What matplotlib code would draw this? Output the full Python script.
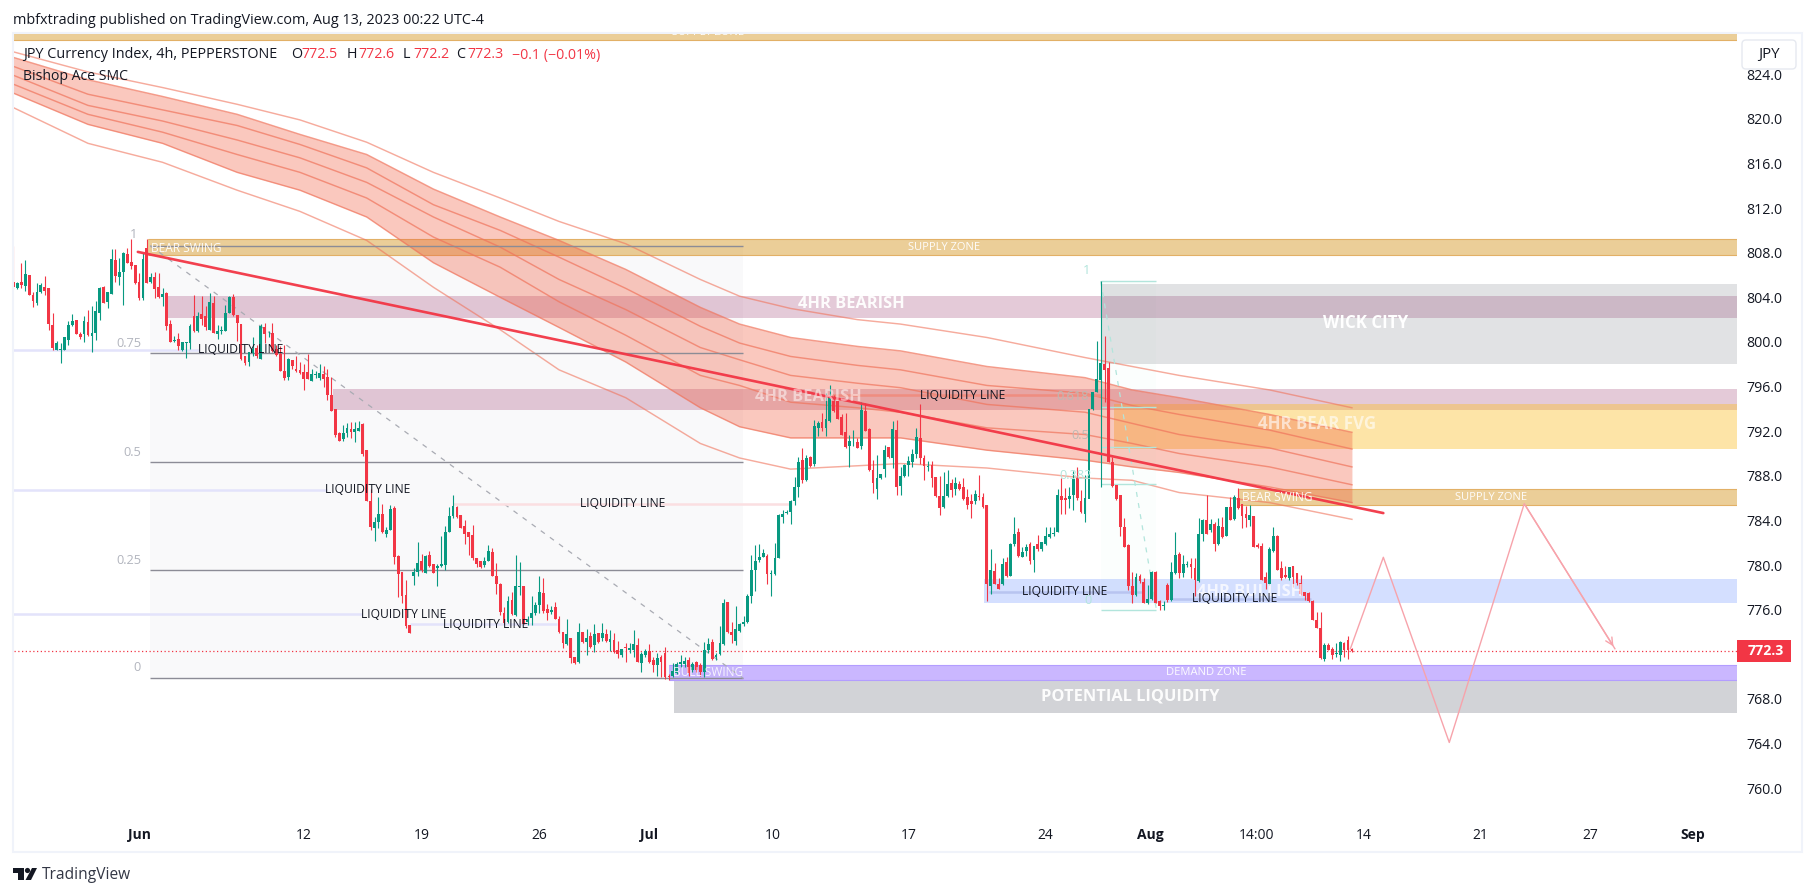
import matplotlib
matplotlib.use("Agg")
import matplotlib.pyplot as plt
from matplotlib.patches import Rectangle, Polygon, Circle, FancyBboxPatch
from matplotlib.transforms import Affine2D

FONT = "Open Sans"
plt.rcParams["font.family"] = FONT

# ---------- candles, 4h bars (price units) ----------
opens = [805.4,804.8,805.4,805.0,806.0,804.2,803.5,804.5,804.9,804.8,801.5,799.3,799.3,799.3,800.2,801.5,802.0,800.7,800.7,801.8,800.5,
800.8,802.6,804.9,803.6,804.3,807.3,805.8,806.3,807.9,807.2,806.9,805.4,803.9,808.4,805.4,805.8,804.9,804.0,804.4,801.6,
800.1,800.3,799.3,799.9,799.9,802.3,801.0,802.5,802.3,801.1,803.5,800.7,801.0,801.0,802.6,804.0,802.4,801.6,798.7,798.2,
799.0,799.5,798.5,801.3,800.7,800.8,799.4,798.9,797.4,796.9,798.4,797.6,797.5,797.3,797.3,796.5,797.0,796.8,797.1,796.9,
795.2,794.0,791.8,791.3,791.8,792.2,
791.9,792.0,792.6,790.3,785.7,783.3,783.9,784.6,782.8,783.1,785.1,780.8,779.4,777.3,774.6,779.0,779.4,780.4,779.3,780.9,
780.1,779.7,779.9,780.0,783.0,784.4,785.2,784.5,783.5,783.0,782.7,780.6,780.4,780.0,780.4,781.2,779.0,778.3,775.7,774.9,
776.9,775.5,778.0,778.1,774.9,775.3,775.7,776.4,777.5,776.1,775.8,776.2,775.2,774.0,772.9,773.5,771.8,771.3,774.0,773.1,
773.6,772.8,773.9,773.5,773.8,773.1,773.3,772.4,771.9,772.7,772.4,772.4,772.8,771.2,771.9,772.3,771.5,771.0,771.8,772.1,
770.1,770.1,770.3,771.1,771.1,771.5,
770.6,771.3,771.0,770.4,772.4,773.1,771.8,772.0,772.9,776.7,774.0,773.2,774.1,774.7,774.9,777.2,779.6,780.5,780.7,780.8,
779.2,779.2,780.6,784.3,784.7,784.8,785.7,787.0,789.4,787.6,789.7,789.1,792.3,792.8,792.3,792.9,795.0,794.7,793.3,791.9,
790.7,791.0,791.0,790.7,793.8,792.2,788.5,786.8,787.8,788.6,790.6,789.6,792.1,787.1,788.0,789.0,789.2,790.0,791.4,789.6,
788.8,789.0,787.9,786.2,785.2,786.2,787.4,786.8,787.3,787.0,786.1,785.7,785.7,786.2,786.1,785.4,778.1,779.5,778.3,778.3,
780.3,779.0,781.9,783.0,780.7,781.3,
781.9,780.5,781.9,781.4,781.9,782.5,782.8,783.0,786.2,786.0,785.9,786.3,787.8,785.7,784.6,785.9,794.0,795.5,796.6,798.0,
797.7,789.2,787.2,786.3,783.4,781.8,778.1,777.3,779.0,778.5,776.6,777.0,779.4,776.8,776.3,778.2,776.9,779.3,781.0,779.3,
780.0,780.1,779.7,778.6,782.8,784.0,783.1,783.7,781.9,783.4,782.6,785.2,784.1,786.0,785.5,784.6,784.0,784.4,781.8,781.7,
778.9,778.3,781.3,782.6,779.7,779.1,778.8,779.9,779.3,778.4,777.6,777.5,776.8,775.1,774.4,771.6,772.8,772.5,772.0,771.9,
773.0,773.3,772.5]
highs = [808.6,805.4,807.1,807.3,806.0,804.5,805.3,805.3,805.9,804.8,802.6,800.1,799.9,800.4,801.9,802.5,802.0,800.9,802.3,802.9,803.2,
803.7,804.9,805.0,804.5,808.3,808.3,807.5,808.1,808.4,809.2,806.9,806.2,808.0,809.2,806.2,806.3,806.2,804.8,804.5,802.0,
800.5,800.8,800.0,800.0,801.6,804.2,802.7,804.1,803.2,804.4,804.1,801.5,801.4,803.3,804.1,804.3,802.4,801.6,798.7,799.1,
800.4,799.7,801.6,801.7,801.0,801.7,799.7,799.6,799.7,798.6,798.4,798.7,798.2,798.0,798.9,797.6,797.4,798.0,797.8,797.6,
796.9,794.0,791.9,792.6,792.7,792.8,
792.8,792.9,792.7,790.3,786.8,784.3,786.1,785.5,783.4,785.4,785.3,780.9,779.4,778.7,774.6,779.7,782.1,781.0,780.9,781.3,
780.1,780.1,782.6,783.5,785.2,786.3,785.3,784.5,784.0,783.0,783.6,780.6,780.4,780.7,781.8,781.5,780.2,778.4,776.2,777.2,
777.6,780.9,780.3,778.1,775.4,777.2,776.7,779.0,778.8,776.5,776.3,776.7,775.4,774.0,775.2,773.5,771.8,774.8,774.0,774.3,
774.0,774.7,773.9,774.8,774.3,774.2,773.9,773.2,772.5,773.0,773.0,774.2,773.5,772.2,772.5,772.9,771.8,772.1,771.9,772.7,
770.2,771.2,771.3,771.9,771.8,771.8,
771.3,771.4,771.2,773.1,773.5,773.4,772.1,774.5,777.0,776.7,774.9,776.3,774.8,775.4,777.4,780.9,781.8,781.9,781.4,781.0,
779.6,782.0,784.6,784.9,784.9,785.8,787.9,789.7,790.5,789.9,789.8,793.0,792.9,793.6,795.4,796.1,795.2,794.7,793.5,793.6,
791.7,792.1,791.4,794.6,794.5,792.3,789.4,789.9,788.2,790.8,790.6,792.9,793.0,788.8,789.1,789.8,790.4,792.3,794.4,789.9,
789.3,789.3,787.9,788.0,788.3,788.5,787.7,787.9,787.5,787.8,786.8,786.4,786.7,788.1,786.5,785.4,781.4,780.2,778.8,780.6,
780.7,782.0,784.3,783.3,781.6,781.9,
782.1,781.7,782.7,782.1,783.4,783.4,783.4,786.8,787.8,786.9,787.0,788.4,788.8,786.7,788.1,785.9,795.5,800.1,805.5,800.5,
798.2,789.7,787.2,786.3,784.2,781.9,779.4,779.3,779.2,778.8,778.2,779.5,779.5,776.9,776.8,778.4,780.3,783.0,781.2,780.9,
780.4,780.6,780.6,784.2,784.1,786.3,784.1,783.9,784.2,784.3,785.2,786.1,786.3,786.9,785.5,785.3,785.4,784.4,782.0,782.0,
779.4,781.6,783.4,782.7,780.4,779.9,779.8,779.9,779.3,779.1,777.6,777.6,776.9,775.8,775.8,773.0,773.0,772.7,773.0,773.2,
773.1,773.6,772.6]
lows = [804.7,804.7,804.8,804.6,804.2,803.1,803.3,804.4,804.2,801.1,799.3,799.3,798.1,799.3,799.7,801.4,800.7,800.3,800.0,800.5,799.1,
800.2,802.0,803.5,803.0,804.3,805.4,805.1,803.3,807.1,806.5,805.2,803.8,803.8,805.3,805.3,803.9,803.9,803.2,801.1,800.0,
800.0,799.3,799.2,798.6,799.4,800.9,800.9,801.5,801.1,801.1,800.8,800.3,800.7,801.0,802.6,802.3,800.1,798.4,797.9,797.8,
798.7,798.6,798.5,799.9,800.4,799.1,798.7,797.4,796.6,796.6,797.6,797.3,797.1,795.7,796.7,796.5,796.8,796.6,796.0,794.8,
793.8,791.5,791.1,791.1,791.5,791.4,
791.0,792.0,789.8,785.7,783.1,782.2,783.3,782.9,782.5,783.1,780.1,777.1,776.6,774.4,773.9,778.2,779.0,779.4,779.3,779.8,
779.3,778.1,779.8,779.6,783.0,784.2,784.2,783.3,781.9,780.9,780.5,779.8,779.7,779.8,780.4,779.0,777.4,775.5,774.7,774.8,
775.5,775.4,777.3,774.7,774.6,774.6,775.5,775.7,775.7,775.1,775.6,775.2,773.9,772.6,772.8,771.2,771.1,771.2,773.0,771.9,
772.6,772.2,773.0,773.2,773.1,772.3,772.1,771.7,771.8,771.3,772.1,771.8,771.3,770.4,771.8,771.2,770.4,770.1,770.0,769.8,
769.7,770.0,770.2,770.9,770.9,770.1,
770.4,770.4,770.1,770.0,772.1,771.5,771.5,771.9,772.8,773.9,773.0,772.8,774.0,774.5,774.8,776.6,777.7,780.3,780.7,778.3,
777.2,779.1,780.6,783.8,784.6,783.7,785.4,786.1,787.4,787.5,788.8,788.9,791.6,792.0,791.6,792.8,793.7,793.1,791.7,790.5,
788.8,790.7,790.5,790.4,792.0,788.4,786.5,785.9,787.7,787.9,789.6,788.7,786.3,786.3,787.9,788.0,788.8,789.6,789.1,787.6,
788.4,787.0,786.1,784.5,785.1,786.1,786.1,786.3,786.7,785.8,785.0,784.2,785.5,785.8,785.1,776.8,777.4,778.3,777.9,778.2,
778.9,779.0,781.7,780.7,780.7,780.8,
780.1,779.4,781.3,781.3,781.8,782.4,782.6,783.0,784.6,784.6,785.1,784.9,785.8,784.7,783.9,785.9,793.9,795.5,787.0,794.6,
789.2,787.0,785.8,782.6,781.6,777.8,776.6,777.2,778.4,776.6,776.5,776.9,776.6,776.0,776.0,776.7,776.8,779.2,778.8,778.9,
779.8,778.8,777.2,778.5,782.2,782.8,783.0,781.3,781.8,782.4,782.6,784.0,784.0,785.0,783.3,783.4,783.5,781.6,781.5,778.7,
777.9,778.2,781.2,779.6,778.7,778.8,778.7,778.0,778.2,777.3,776.9,776.7,775.1,774.4,771.6,771.4,772.4,771.6,771.8,771.4,
771.8,771.6,772.2]
closes = [804.9,805.3,805.1,806.1,804.2,803.7,804.5,805.1,804.6,801.6,799.5,799.9,799.4,800.4,801.5,801.9,800.7,800.4,801.9,800.6,800.8,
802.8,804.8,803.5,804.5,807.4,805.9,806.3,808.0,807.1,806.8,805.3,803.9,807.4,805.3,805.8,804.7,804.0,804.3,801.4,800.0,
800.2,799.6,800.0,800.0,801.4,801.0,802.3,802.1,801.3,803.6,800.8,801.0,801.1,802.6,804.0,802.4,801.7,798.5,798.1,799.1,
799.4,798.7,801.4,800.7,800.7,799.2,798.8,797.4,796.8,798.5,797.8,797.4,797.2,796.7,796.7,797.1,797.1,797.2,796.7,795.2,
793.8,791.7,791.1,791.8,792.3,791.9,
792.2,792.3,790.0,785.7,783.4,783.9,784.6,783.0,783.1,785.0,780.7,779.2,777.2,774.5,773.9,779.4,780.2,779.6,780.8,779.9,
779.3,779.9,780.1,783.0,784.4,785.3,784.3,783.3,782.8,782.5,780.6,780.1,779.8,780.4,781.3,779.0,778.3,775.8,774.8,776.8,
775.6,778.1,778.1,774.7,775.1,775.7,776.4,777.6,775.9,775.7,776.0,775.2,774.0,773.0,773.8,771.7,771.2,774.0,773.1,773.5,
772.7,773.8,773.1,773.9,773.2,773.4,772.2,772.0,772.5,772.6,772.6,772.9,771.3,772.0,772.3,771.3,771.0,771.7,771.3,770.0,
770.0,770.5,771.1,771.3,771.4,770.3,
771.1,770.6,770.4,772.4,772.9,771.6,771.9,773.0,776.6,774.0,773.7,774.3,774.7,774.9,777.2,779.6,780.4,780.7,781.1,779.2,
779.3,780.6,784.5,784.6,784.8,785.7,787.0,789.2,787.6,789.6,788.9,792.5,792.7,792.3,793.1,795.1,793.8,793.1,791.7,790.6,
791.1,791.0,790.5,793.9,792.0,788.5,787.4,787.8,788.2,790.3,789.7,792.2,787.0,788.0,789.0,789.3,790.0,791.5,789.6,788.9,
788.9,787.8,786.2,785.1,786.2,787.3,786.7,787.4,786.8,785.9,785.4,785.5,786.4,786.1,785.2,778.3,779.6,778.3,777.9,780.1,
779.0,781.9,782.8,780.8,781.2,781.6,
780.4,781.7,781.4,782.1,782.6,782.8,782.9,786.3,785.8,785.8,786.2,787.7,786.0,784.8,786.0,794.0,795.5,796.7,798.1,797.5,
789.2,787.1,785.9,783.4,781.6,778.1,777.3,778.9,778.6,776.6,777.0,779.4,776.6,776.3,776.4,776.9,779.4,780.9,779.3,780.1,
780.1,779.8,778.7,782.8,784.0,782.8,783.7,781.9,783.5,782.5,785.2,784.0,786.1,785.1,784.4,784.2,784.5,781.6,781.6,778.7,
778.4,781.4,782.6,779.6,778.8,778.9,779.8,778.9,778.4,777.4,777.2,776.8,775.1,774.4,771.7,772.8,772.4,771.9,772.1,773.1,
772.4,772.4,772.3]

# ---------- moving-average ribbon ----------
ribbon_bars = [0,19,38,57,73,90,107,124,139,156,175,185,198,215,226,248,273,285,297,320,341]
ribbon_t = [826.0,824.2,822.8,821.3,819.9,817.9,815.2,812.9,810.8,808.8,805.6,804.1,803.0,802.0,801.6,800.4,798.6,797.8,797.0,795.7,794.1]
ribbon_a = [825.5,823.5,822.0,820.4,818.6,816.8,813.7,811.2,809.1,806.5,803.1,801.6,800.4,799.6,799.2,797.8,796.8,795.7,795.0,793.5,791.9]
ribbon_b = [824.7,822.2,820.8,819.4,817.7,815.6,812.3,810.0,807.6,804.8,801.4,799.9,798.7,797.9,797.5,796.1,795.4,794.3,793.5,792.1,790.4]
ribbon_c = [823.9,821.2,819.8,818.1,816.5,814.3,811.2,808.5,805.6,802.9,799.5,798.4,797.0,796.3,795.9,794.4,793.7,792.7,791.7,790.5,788.8]
ribbon_d = [823.1,820.4,818.8,816.8,815.2,812.9,809.4,806.7,803.6,800.6,797.0,796.1,794.6,794.1,793.7,792.3,791.7,790.9,790.0,788.8,787.2]
ribbon_e = [822.3,819.5,817.8,815.2,813.6,811.2,807.1,804.0,801.3,798.2,794.1,792.4,791.4,791.4,791.4,790.3,789.4,788.8,788.3,787.0,785.6]
ribbon_l = [821.0,817.8,816.1,813.6,811.7,809.1,804.9,801.1,797.5,795.0,790.9,789.6,788.6,788.9,789.1,788.7,787.8,787.6,786.5,785.6,784.1]

# ---------- zones: start bar, top price, bottom price, colour, alpha, edge ----------
zone_starts = [0, 34.3, 38.6, 81.4, 277, 280.3, 312.3, 247.3, 167, 168.3]
zone_tops = [827.7, 809.2, 804.13, 795.8, 805.2, 794.4, 786.85, 778.75, 771.0, 769.6]
zone_bots = [827.1, 807.75, 802.15, 793.9, 798.0, 790.4, 785.35, 776.6, 769.7, 766.75]
zone_colors = ["#d18c0a","#d18c0a","#880e4f","#880e4f","#787b86","#fbc02d","#d18c0a","#2962ff","#7b4dff","#787b86"]
zone_alphas = [.42,.42,.22,.22,.22,.42,.42,.2,.4,.33]
zone_edges = ["#e2b066","#e2b066",None,None,None,None,"#e2b066",None,"#b39dff",None]

zone_label_text = ["SUPPLY ZONE","BEAR SWING","SUPPLY ZONE","4HR BEARISH","4HR BEARISH","WICK CITY","4HR BEAR FVG",
                   "BEAR SWING","SUPPLY ZONE","4HR BULLISH","BULL SWING","DEMAND ZONE","POTENTIAL LIQUIDITY"]
zone_label_bar = [176.9,35,237.2,213.4,202.4,344.4,332.1,313,376.5,315,177,303.9,284.5]
zone_label_price = [827.75,808.4,808.45,803.4,795.07,801.7,792.65,786.1,786.1,777.6,770.4,770.4,768.25]
zone_label_size = [8,8.6,8,11.8,11.8,12.2,12.2,8.6,8,11.8,8.6,8,11.8]
zone_label_alpha = [1,.95,.95,.95,.5,1,.6,.95,.95,.75,.85,.95,.95]
zone_label_ha = ["center","left","center","center","center","center","center","left","center","center","center","center","center"]

# ---------- liquidity lines ----------
liq_start = [0,0,0,101,112,208,248.6,295.2]
liq_end = [47.3,80,88.8,138.5,197.6,277,287.5,330.6]
liq_price = [799.3,786.73,775.6,774.7,785.5,795.2,777.6,777.0]
liq_text_bar = [58,90.3,99.3,120.4,155.3,241.9,267.9,311.2]
liq_colors = ["#e3e3fb","#e3e3fb","#e3e3fb","#e3e3fb","#fbdfe1","#ef8d80","#b8c4f0","#b8c4f0"]

# ---------- fibonacci drawings ----------
fib1_start, fib1_end = 34.8, 185.9
fib1_levels = [808.64,798.97,789.2,779.55,769.85]
fib1_names = ["1","0.75","0.5","0.25","0"]
fib1_lab_bar = [31.5,32.5,32.5,32.5,32.5]
fib1_lab_price = [809.6,799.85,790.1,780.45,770.85]

fib2_start, fib2_end = 277, 291.2
fib2_levels = [805.44,794.14,790.6,787.26,775.97]
fib2_names = ["1","0.618","0.5","0.382","0"]
fib2_lab_bar = [273.5,269.9,271.7,270.5,273.8]
fib2_lab_price = [806.4,795.07,791.6,788.07,776.86]

# ---------- trend line and projection ----------
trend_bars = [31.7,349]
trend_prices = [808.07,784.66]
zig_bars = [340.6,349,365.8,384.9,408]
zig_prices = [772.5,780.7,764.1,785.5,772.5]

# ---------- axes labels ----------
price_ticks = list(range(760,825,4))
time_ticks = [32,74,104,134,162,193.5,228,262.8,289.7,316.6,343.9,373.7,401.8,427.9]
time_labels = ["Jun","12","19","26","Jul","10","17","24","Aug","14:00","14","21","27","Sep"]
time_bold = ["Jun","Jul","Aug","Sep"]
last_price = 772.3

UP, DOWN = "#089981", "#f23645"
INK = "#131722"

W, H = 1815, 896
fig = plt.figure(figsize=(W/100, H/100), dpi=100, facecolor="white")
px = Affine2D().scale(1/W, -1/H).translate(0, 1) + fig.transFigure

L_, R_, T_, B_ = 14, 1737, 34, 815
ax = fig.add_axes([L_/W, 1-B_/H, (R_-L_)/W, (B_-T_)/H])
ax.set_xlim(0.15, 439.1)
ax.set_ylim(757.6, 827.6)
for s in ax.spines.values():
    s.set_visible(False)
ax.yaxis.tick_right()
ax.set_yticks(price_ticks)
ax.set_yticklabels([f"{v:.1f}" for v in price_ticks], fontsize=10.2, color=INK)
ax.set_xticks(time_ticks)
ax.set_xticklabels(time_labels, fontsize=10, color=INK)
for lab in ax.get_xticklabels():
    if lab.get_text() in time_bold:
        lab.set_fontweight("bold")
ax.tick_params(axis="both", length=0)
ax.tick_params(axis="x", pad=9.5)
ax.tick_params(axis="y", pad=7)
xr = ax.get_xlim()[1]

# fib backgrounds
ax.add_patch(Rectangle((fib1_start, fib1_levels[-1]), fib1_end-fib1_start, fib1_levels[0]-fib1_levels[-1],
                       fc="#f9f9fa", ec="none", zorder=1))
ax.add_patch(Rectangle((fib2_start, fib2_levels[-1]), fib2_end-fib2_start, fib2_levels[0]-fib2_levels[-1],
                       fc="#fbfefd", ec="none", zorder=1))
# zones
for st, t, b, c, a, e in zip(zone_starts, zone_tops, zone_bots, zone_colors, zone_alphas, zone_edges):
    ax.add_patch(Rectangle((st, b), xr-st, t-b, fc=c, alpha=a, ec="none", zorder=2))
    if e:
        ax.hlines([t, b], st, xr, color=e, lw=0.8, zorder=2.1)

# ribbon
ax.fill_between(ribbon_bars, ribbon_a, ribbon_e, color="#f05a3c", alpha=.33, lw=0, zorder=2.5)
for ser in (ribbon_a, ribbon_b, ribbon_c, ribbon_d, ribbon_e):
    ax.plot(ribbon_bars, ser, color="#f0745c", alpha=.7, lw=1.05, zorder=2.6)
for ser in (ribbon_t, ribbon_l):
    ax.plot(ribbon_bars, ser, color="#f0745c", alpha=.6, lw=1.05, zorder=2.6)

# fib lines
ax.hlines(fib1_levels, fib1_start, fib1_end, color="#8c8c96", lw=1.0, zorder=2.7)
ax.plot([fib1_start, fib1_end], [fib1_levels[0], fib1_levels[-1]], color="#a9abb3", lw=0.9, ls=(0, (4, 5)), zorder=2.7)
for n, xb, yp in zip(fib1_names, fib1_lab_bar, fib1_lab_price):
    ax.text(xb, yp, n, ha="right", va="center", fontsize=9.2, color="#b2b5be", zorder=7)
ax.hlines(fib2_levels, fib2_start, fib2_end, color="#b2e5dc", lw=1.0, zorder=2.7)
ax.plot([fib2_start, fib2_end], [fib2_levels[0], fib2_levels[-1]], color="#b2e5dc", lw=0.9, ls=(0, (4, 5)), zorder=2.7)
for n, xb, yp in zip(fib2_names, fib2_lab_bar, fib2_lab_price):
    col = "#b2e5dc" if n in ("1", "0", "0.382") else "#bdb9b3"
    ax.text(xb, yp, n, ha="center", va="center", fontsize=9.2, color=col, zorder=7)

# liquidity lines
for s_, e_, p_, c_ in zip(liq_start, liq_end, liq_price, liq_colors):
    ax.hlines(p_, s_, e_, color=c_, lw=1.8, zorder=2.8)

# last price line
ax.axhline(last_price, color=DOWN, lw=0.9, ls=(0, (1, 2)), zorder=2.9)

# candles
bars = list(range(len(closes)))
wick_colors = [UP if c >= o else DOWN for o, c in zip(opens, closes)]
ax.vlines(bars, lows, highs, colors=wick_colors, lw=0.8, zorder=3)
ax.bar(bars, [abs(c-o) for o, c in zip(opens, closes)], bottom=[min(o, c) for o, c in zip(opens, closes)],
       width=0.72, color=wick_colors, lw=0, zorder=3.1)

# trend + projection
ax.plot(trend_bars, trend_prices, color=DOWN, lw=1.9, alpha=.95, zorder=5, solid_capstyle="round")
ax.plot(zig_bars, zig_prices, color="#f7a3ab", lw=1.0, zorder=5)
ax.annotate("", xy=(zig_bars[-1], zig_prices[-1]), xytext=(zig_bars[-2], zig_prices[-2]),
            arrowprops=dict(arrowstyle="->", color="#f7a3ab", lw=1.0, mutation_scale=13), zorder=5)

# labels on zones
for t, xb, yp, sz, al, ha in zip(zone_label_text, zone_label_bar, zone_label_price, zone_label_size, zone_label_alpha, zone_label_ha):
    ax.text(xb, yp, t, color="white", alpha=al, fontsize=sz, ha=ha, va="center",
            fontweight="bold" if sz > 10 else "normal", zorder=7, clip_on=True)
for xb, yp in zip(liq_text_bar, liq_price):
    ax.text(xb, yp, "LIQUIDITY LINE", color=INK, fontsize=8.7, ha="center", va="center", zorder=7)

# price tag
yt = ax.get_yaxis_transform()
ax.add_patch(Rectangle((1.0, last_price-0.95), 54/(R_-L_), 1.9, transform=yt, fc=DOWN, ec="none", clip_on=False, zorder=8))
ax.text(1+29/(R_-L_), last_price, f"{last_price:.1f}", transform=yt, color="white", fontsize=10.2, fontweight="bold",
        ha="center", va="center", zorder=9, clip_on=False)

# frame (pixel furniture)
fig.add_artist(Rectangle((13, 33), 1789, 819, transform=px, fc="none", ec="#f0f3fa", lw=1.5, zorder=4))
# currency button
fig.add_artist(FancyBboxPatch((1744, 42), 50, 25, boxstyle="round,pad=2,rounding_size=4", transform=px,
                              fc="white", ec="#e6e9f0", lw=1, zorder=5))
fig.text(1769/W, 1-54.5/H, "JPY", fontsize=10.8, color=INK, ha="center", va="center", zorder=6)

# header + legend
fig.text(13/W, 1-21/H, "mbfxtrading published on TradingView.com, Aug 13, 2023 00:22 UTC-4", fontsize=10.4, color=INK, va="center")
fig.text(23/W, 1-55/H, "JPY Currency Index, 4h, PEPPERSTONE", fontsize=10.4, color=INK, va="center", zorder=6)
legend_x = [291,301,347,358,403,413,456,467,512]
legend_t = ["O","772.5","H","772.6","L","772.2","C","772.3","\u22120.1 (\u22120.01%)"]
legend_c = [INK,DOWN,INK,DOWN,INK,DOWN,INK,DOWN,DOWN]
for lx, lt, lc in zip(legend_x, legend_t, legend_c):
    fig.text(lx/W, 1-55/H, lt, fontsize=10.3, color=lc, va="center", zorder=6)
fig.text(23/W, 1-77/H, "Bishop Ace SMC", fontsize=10.1, color=INK, va="center", zorder=6)

# TradingView logo
fig.add_artist(Polygon([(13, 868), (24, 868), (24, 880), (18, 880), (18, 873), (13, 873)], closed=True, transform=px, fc=INK, ec="none"))
fig.add_artist(Circle((27.5, 870.5), 2.6, transform=px, fc=INK, ec="none"))
fig.add_artist(Polygon([(32, 868), (37, 868), (31, 880), (25.5, 880)], closed=True, transform=px, fc=INK, ec="none"))
fig.text(42/W, 1-875/H, "TradingView", fontsize=11.2, color="#333745", va="center")

fig.savefig("out.png", dpi=100)
